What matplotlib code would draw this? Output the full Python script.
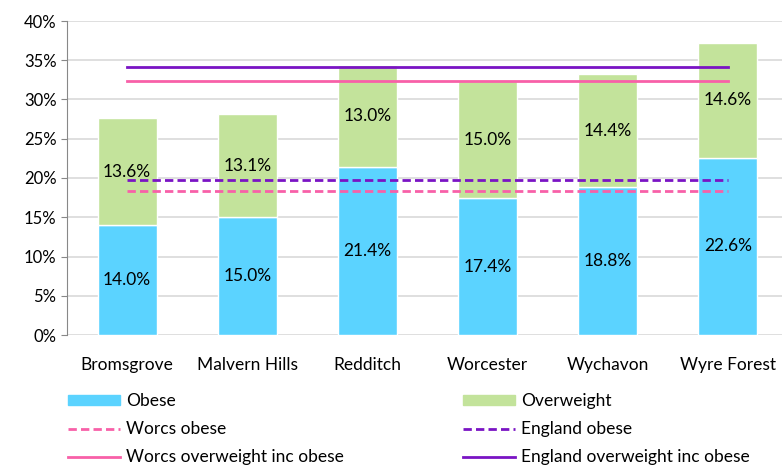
import matplotlib
matplotlib.use("Agg")
import matplotlib.pyplot as plt
from matplotlib.lines import Line2D
import matplotlib.patches as mpatches
import numpy as np

plt.rcParams["font.family"] = ["Lato", "DejaVu Sans"]

# ── Data ──────────────────────────────────────────────────────────────
districts  = ["Bromsgrove", "Malvern Hills", "Redditch", "Worcester", "Wychavon", "Wyre Forest"]
obese      = [14.0, 15.0, 21.4, 17.4, 18.8, 22.6]
overweight = [13.6, 13.1, 13.0, 15.0, 14.4, 14.6]

worcs_obese = 18.3
england_obese = 19.7
worcs_ow_inc_obese = 32.4
england_ow_inc_obese = 34.1

OBESE_C = "#5BD3FF"
OVER_C = "#C3E39B"
WORCS_C = "#F860A8"
ENG_C = "#7A14C4"
DASH = (0, (3, 1.5))

fig = plt.figure(figsize=(7.83, 4.66), dpi=100)
ax = fig.add_axes([67 / 783, 1 - 335 / 466, (782 - 67) / 783, (335 - 21) / 466])

x = np.arange(len(districts))
w = 0.49
ax.bar(x, obese, width=w, color=OBESE_C, edgecolor="white", linewidth=1, zorder=2)
ax.bar(x, overweight, width=w, bottom=obese, color=OVER_C, edgecolor="white", linewidth=1, zorder=2)

for xi, o, ov in zip(x, obese, overweight):
    ax.text(xi, o / 2, f"{o:.1f}%", ha="center", va="center", fontsize=12.5, zorder=4)
    ax.text(xi, o + ov / 2, f"{ov:.1f}%", ha="center", va="center", fontsize=12.5, zorder=4)

xs = [x[0], x[-1]]
ax.plot(xs, [worcs_obese] * 2, color=WORCS_C, lw=2, ls=DASH, zorder=3)
ax.plot(xs, [england_obese] * 2, color=ENG_C, lw=2, ls=DASH, zorder=3)
ax.plot(xs, [worcs_ow_inc_obese] * 2, color=WORCS_C, lw=2, zorder=3)
ax.plot(xs, [england_ow_inc_obese] * 2, color=ENG_C, lw=2, zorder=3)

ax.set_xlim(-0.5, 5.45)
ax.set_ylim(0, 40)
ax.set_yticks(range(0, 41, 5))
ax.set_yticklabels([f"{v}%" for v in range(0, 41, 5)], fontsize=12)
ax.set_xticks(x)
ax.set_xticklabels(districts, fontsize=12.5)
ax.tick_params(axis="x", length=0, pad=16)
ax.tick_params(axis="y", length=4, direction="out", color="#888888")
ax.yaxis.grid(True, color="#D9D9D9", lw=1.2, zorder=0)
ax.set_axisbelow(True)
for s in ["top", "right", "bottom"]:
    ax.spines[s].set_visible(False)
ax.spines["left"].set_color("#888888")

left_handles = [
    mpatches.Patch(color=OBESE_C, label="Obese"),
    Line2D([], [], color=WORCS_C, lw=2, ls=DASH, label="Worcs obese"),
    Line2D([], [], color=WORCS_C, lw=2, label="Worcs overweight inc obese"),
]
right_handles = [
    mpatches.Patch(color=OVER_C, label="Overweight"),
    Line2D([], [], color=ENG_C, lw=2, ls=DASH, label="England obese"),
    Line2D([], [], color=ENG_C, lw=2, label="England overweight inc obese"),
]
leg_kw = dict(loc="upper left", frameon=False, fontsize=12.5, handlelength=3.0, handleheight=0.5,
              handletextpad=0.35, labelspacing=0.7, borderpad=0, borderaxespad=0)
fig.legend(handles=left_handles, bbox_to_anchor=(68 / 783, 1 - 393 / 466), **leg_kw)
fig.legend(handles=right_handles, bbox_to_anchor=(463 / 783, 1 - 393 / 466), **leg_kw)

fig.savefig("out.png", dpi=100)
